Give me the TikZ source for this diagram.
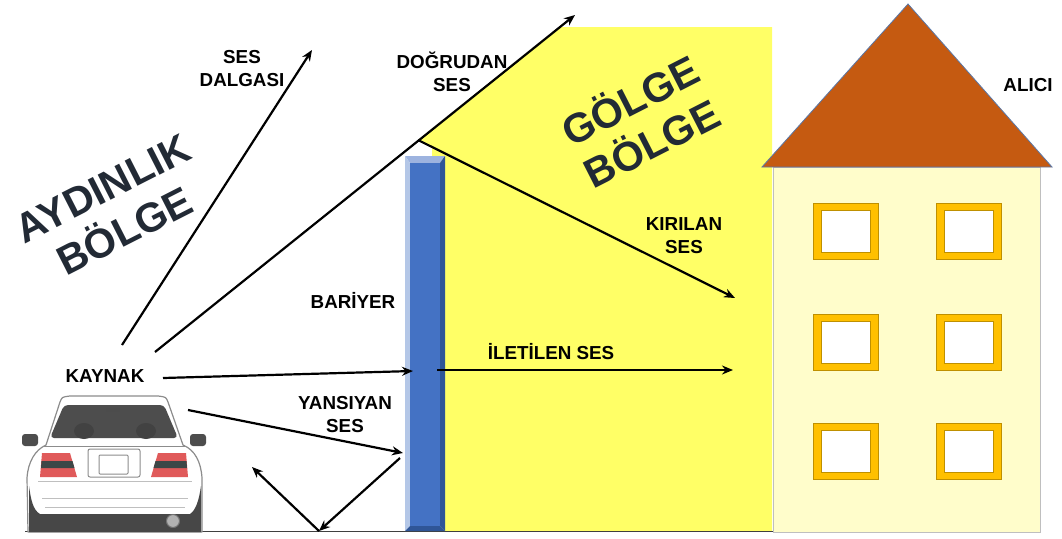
\documentclass[tikz,border=0pt]{standalone}
\usepackage{fontspec}
\setmainfont{Liberation Sans}
\usetikzlibrary{arrows.meta}
\definecolor{slate}{HTML}{222A35}
\definecolor{shadowyellow}{HTML}{FFFF66}
\definecolor{wallcream}{HTML}{FFFDCB}
\definecolor{roofbrown}{HTML}{C55A11}
\definecolor{roofedge}{HTML}{5A78A8}
\definecolor{framegold}{HTML}{FFC000}
\definecolor{framedark}{HTML}{BF9000}
\definecolor{barblue}{HTML}{4472C4}
\definecolor{barhi}{HTML}{9DB3DF}
\definecolor{barhi2}{HTML}{B4C7E7}
\definecolor{barlo}{HTML}{2F5597}
\definecolor{cardark}{HTML}{4D4D4D}
\definecolor{carline}{HTML}{8C8C8C}
\definecolor{lampred}{HTML}{E05A5A}
\definecolor{lampdark}{HTML}{3D4747}
\tikzset{
  lbl/.style={font=\fontsize{18.8}{23}\selectfont\bfseries, align=center, text=black, inner sep=0pt},
  biglbl/.style={font=\fontsize{41}{48}\selectfont\bfseries, align=center, text=slate, inner sep=0pt},
  ray/.style={line width=2.2pt, -{Stealth[length=11pt,width=9pt]}},
  groundline/.style={line width=1pt, draw=black!75},
  winframe/.style={fill=framegold, draw=framedark, line width=0.8pt},
  winglass/.style={fill=white, draw=framedark, line width=0.6pt},
  carbody/.style={fill=white, draw=carline, line width=1.2pt, line join=round},
}
\begin{document}
\begin{tikzpicture}[x=1pt,y=-1pt]
\useasboundingbox (0,0) rectangle (1062,538);

% shadow zone behind the barrier
\fill[shadowyellow] (418,140) -- (560,27) -- (772,27) -- (772,531) -- (432,531) -- (432,147) -- cycle;

% ground
\draw[groundline] (25,531) -- (1040,531);

% receiver house
\fill[wallcream, draw=black!25, line width=0.8pt] (773,167) rectangle (1040,532);
\fill[roofbrown, draw=roofedge, line width=0.8pt] (762,167) -- (908,4) -- (1052,167) -- cycle;
\foreach \wx in {813,936}{
  \foreach \wy in {203,314,423}{
    \draw[winframe] (\wx,\wy) rectangle ++(65,56);
    \draw[winglass] (\wx+8,\wy+7) rectangle ++(49,42);
  }
}

% barrier with bevelled edges
\fill[barhi] (405,156) -- (445,156) -- (440,163) -- (410,163) -- cycle;
\fill[barhi2] (405,156) -- (410,163) -- (410,526) -- (405,531) -- cycle;
\fill[barlo] (445,156) -- (445,531) -- (440,526) -- (440,163) -- cycle;
\fill[barlo] (405,531) -- (445,531) -- (440,526) -- (410,526) -- cycle;
\fill[barblue] (410,163) rectangle (440,526);

% car seen from behind
\fill[cardark, rounded corners=3pt] (22,434) rectangle (38,446);
\fill[cardark, rounded corners=3pt] (190,434) rectangle (206,446);
\draw[carbody] (28,532) -- (27,478) .. controls (28,462) and (35,450) .. (46,445)
  -- (60,402) .. controls (62,397) .. (70,396) -- (158,396)
  .. controls (166,397) .. (168,402) -- (183,445)
  .. controls (195,450) and (201,462) .. (202,478) -- (202,532) -- cycle;
\fill[cardark, rounded corners=4pt] (64,405) -- (164,405) -- (178,438) -- (50,438) -- cycle;
\fill[black!74] (84,431) ellipse (10 and 8);
\fill[black!74] (146,431) ellipse (10 and 8);
\fill[black!70] (106,408) rectangle (120,412);
\draw[carline, line width=0.8pt] (44,446) -- (186,446);
\fill[lampred] (42,453) -- (70,453) -- (77,477) -- (40,477) -- cycle;
\fill[lampdark] (41.5,461) -- (72.5,461) -- (74.5,468) -- (41,468) -- cycle;
\fill[lampred] (158,453) -- (186,453) -- (188,477) -- (151,477) -- cycle;
\fill[lampdark] (155.5,461) -- (186.5,461) -- (187,468) -- (153.5,468) -- cycle;
\draw[carline, line width=1pt, rounded corners=2pt] (88,449) rectangle (140,477);
\draw[carline, line width=1pt, rounded corners=1pt] (99,455) rectangle (128,474);
\draw[black!25, line width=0.8pt] (38,481) -- (192,481);
\draw[black!25, line width=0.8pt] (42,498) -- (188,498);
\draw[black!25, line width=0.8pt] (45,507) -- (185,507);
\fill[black!72] (29,532) -- (29,486) .. controls (31,500) and (33,510) .. (40,514)
  -- (190,514) .. controls (196,510) and (199,500) .. (201,486) -- (201,532) -- cycle;
\fill[black!30, draw=black!55, line width=1pt] (173,521) circle (6.5);

% labels
\node[lbl] (waveLbl) at (242,69) {SES\\DALGASI};
\node[lbl] (dirLbl) at (452,72) {DOĞRUDAN\\SES};
\node[lbl] (srcLbl) at (105,376) {KAYNAK};
\node[lbl] (barLbl) at (353,300) {BARİYER};
\node[lbl] (transLbl) at (551,352) {İLETİLEN SES};
\node[lbl] (reflLbl) at (345,415) {YANSIYAN\\SES};
\node[lbl] (refLbl) at (684,236) {KIRILAN\\SES};
\node[lbl] (rcvLbl) at (1028,85) {ALICI};
\node[biglbl, rotate=27] (litLbl) at (114,210) {AYDINLIK\\BÖLGE};
\node[biglbl, rotate=27] (shLbl) at (640,120) {GÖLGE\\BÖLGE};

% ray end points
\coordinate (wave0) at (122,345);
\coordinate (wave1) at (312,50);
\coordinate (dir0) at (155,352);
\coordinate (dir1) at (575,15);
\coordinate (apex) at (418,140);
\coordinate (ref1) at (735,298);
\coordinate (src) at (163,378);
\coordinate (barL) at (413,371);
\coordinate (barR) at (437,370);
\coordinate (trans1) at (733,370);
\coordinate (refl0) at (188,410);
\coordinate (refl1) at (403,453);
\coordinate (bounce0) at (400,458);
\coordinate (gnd) at (319,531);
\coordinate (bounce1) at (252,467);

% sound rays
\draw[ray] (wave0) -- (wave1);
\draw[ray] (dir0) -- (dir1);
\draw[ray] (apex) -- (ref1);
\draw[ray] (src) -- (barL);
\draw[ray] (barR) -- (trans1);
\draw[ray] (refl0) -- (refl1);
\draw[ray] (bounce0) -- (gnd);
\draw[ray] (gnd) -- (bounce1);
\end{tikzpicture}
\end{document}
